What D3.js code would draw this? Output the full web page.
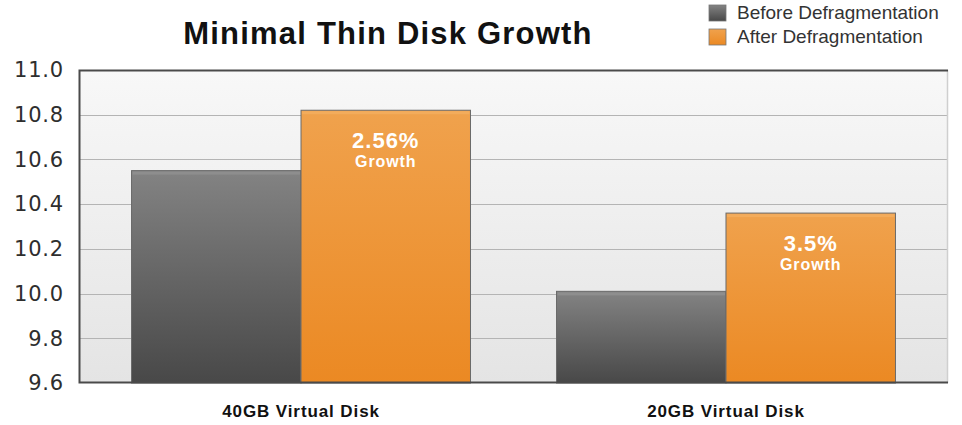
<!DOCTYPE html>
<html>
<head>
<meta charset="utf-8">
<script src="https://cdn.jsdelivr.net/npm/d3@7/dist/d3.min.js"></script>
<style>
  html, body { margin: 0; padding: 0; background: #fff; }
  svg { display: block; }
</style>
</head>
<body>
<svg id="chart" width="962" height="425"></svg>
<script>
// Thin-provisioned disk size before and after defragmentation (GB)
const categories = ["40GB Virtual Disk", "20GB Virtual Disk"];
const seriesNames = ["Before Defragmentation", "After Defragmentation"];
const beforeValues = [10.55, 10.01];
const afterValues = [10.82, 10.36];
const growthLabels = ["2.56%", "3.5%"];
const yTicks = [9.6, 9.8, 10.0, 10.2, 10.4, 10.6, 10.8, 11.0];

const svg = d3.select("#chart");
const W = 962, H = 425;
const m = { left: 79, right: 14, top: 70, bottom: 42 };
const plotW = W - m.left - m.right;
const plotH = H - m.top - m.bottom;

const defs = svg.append("defs");
function vGrad(id, stops) {
  const g = defs.append("linearGradient").attr("id", id)
    .attr("x1", 0).attr("y1", 0).attr("x2", 0).attr("y2", 1);
  stops.forEach(([o, c]) => g.append("stop").attr("offset", o).attr("stop-color", c));
}
vGrad("bgGrad", [[0, "#f8f8f8"], [1, "#e4e4e4"]]);
vGrad("grayGrad", [[0, "#838383"], [1, "#484848"]]);
vGrad("orangeGrad", [[0, "#f0a24d"], [1, "#eb8923"]]);

const x0 = d3.scaleBand().domain(categories).range([0, plotW])
  .paddingInner(0.2024).paddingOuter(0.1236);
const x1 = d3.scaleBand().domain(seriesNames).range([0, x0.bandwidth()]);
const y = d3.scaleLinear().domain([9.6, 11.0]).range([plotH, 0]);

const g = svg.append("g").attr("transform", `translate(${m.left},${m.top})`);

// plot background
g.append("rect").attr("width", plotW).attr("height", plotH).attr("fill", "url(#bgGrad)");

// horizontal gridlines
g.append("g").selectAll("line").data(yTicks.slice(1, -1)).join("line")
  .attr("x1", 0).attr("x2", plotW)
  .attr("y1", d => Math.round(y(d)) + 0.5).attr("y2", d => Math.round(y(d)) + 0.5)
  .attr("stroke", "#b4b4b4").attr("stroke-width", 1.2);

// right edge
g.append("line").attr("x1", plotW - 0.5).attr("x2", plotW - 0.5)
  .attr("y1", 0).attr("y2", plotH).attr("stroke", "#cfcfcf").attr("stroke-width", 1.5);

// bars
const rows = categories.map((c, i) => ({
  cat: c,
  growth: growthLabels[i],
  vals: [
    { key: seriesNames[0], v: beforeValues[i], fill: "url(#grayGrad)", hi: "#8e8e8e" },
    { key: seriesNames[1], v: afterValues[i], fill: "url(#orangeGrad)", hi: "#f3ac5c" }
  ]
}));

const groups = g.append("g").selectAll("g").data(rows).join("g")
  .attr("transform", d => `translate(${x0(d.cat)},0)`);

groups.selectAll("rect.bar").data(d => d.vals).join("rect").attr("class", "bar")
  .attr("x", d => x1(d.key))
  .attr("y", d => y(d.v))
  .attr("width", x1.bandwidth())
  .attr("height", d => plotH - y(d.v))
  .attr("fill", d => d.fill)
  .attr("stroke", "#6a6a6a").attr("stroke-width", 1);

groups.selectAll("rect.hi").data(d => d.vals).join("rect").attr("class", "hi")
  .attr("x", d => x1(d.key) + 1)
  .attr("y", d => y(d.v) + 1)
  .attr("width", x1.bandwidth() - 2)
  .attr("height", 3)
  .attr("fill", d => d.hi);

// growth annotations inside the after bars
groups.append("text")
  .attr("x", x1(seriesNames[1]) + x1.bandwidth() / 2)
  .attr("y", d => y(d.vals[1].v) + 38)
  .attr("text-anchor", "middle")
  .attr("font-family", "Liberation Sans, Arial, sans-serif")
  .attr("font-weight", "bold").attr("font-size", 22).attr("letter-spacing", 1).attr("fill", "#fff")
  .text(d => d.growth);
groups.append("text")
  .attr("x", x1(seriesNames[1]) + x1.bandwidth() / 2)
  .attr("y", d => y(d.vals[1].v) + 57)
  .attr("text-anchor", "middle")
  .attr("font-family", "Liberation Sans, Arial, sans-serif")
  .attr("font-weight", "bold").attr("font-size", 16).attr("letter-spacing", 0.9).attr("fill", "#fff")
  .text("Growth");

// frame: top, left, bottom
g.append("path")
  .attr("d", `M${plotW},0.5H0.5V${plotH - 0.5}H${plotW}`)
  .attr("fill", "none").attr("stroke", "#4a4a4a").attr("stroke-width", 2);

// y axis labels
const yAxis = d3.axisLeft(y).tickValues(yTicks).tickFormat(d3.format(".1f")).tickSize(0).tickPadding(15);
g.append("g").call(yAxis)
  .call(s => s.select(".domain").remove())
  .selectAll("text")
  .attr("font-family", "DejaVu Sans, sans-serif")
  .attr("font-size", 21).attr("letter-spacing", 0.8).attr("fill", "#2e2e2e");

// category labels
const xAxis = d3.axisBottom(x0).tickSize(0).tickPadding(22);
g.append("g").attr("transform", `translate(0,${plotH})`).call(xAxis)
  .call(s => s.select(".domain").remove())
  .selectAll("text")
  .attr("font-family", "Liberation Sans, Arial, sans-serif")
  .attr("font-weight", "bold").attr("font-size", 17).attr("letter-spacing", 0.9).attr("fill", "#111");

// title
svg.append("text")
  .attr("x", 388).attr("y", 44)
  .attr("text-anchor", "middle")
  .attr("font-family", "Liberation Sans, Arial, sans-serif")
  .attr("font-weight", "bold").attr("font-size", 31).attr("letter-spacing", 1.2).attr("fill", "#111")
  .text("Minimal Thin Disk Growth");

// legend
const legend = svg.append("g").attr("transform", "translate(709,5)");
const legendColors = ["url(#grayGrad)", "url(#orangeGrad)"];
seriesNames.forEach((name, i) => {
  const row = legend.append("g").attr("transform", `translate(0,${i * 24})`);
  row.append("rect").attr("width", 17).attr("height", 16)
    .attr("fill", legendColors[i]).attr("stroke", "#777").attr("stroke-width", 0.8);
  row.append("text").attr("x", 28).attr("y", 14)
    .attr("font-family", "Liberation Sans, Arial, sans-serif")
    .attr("font-size", 19).attr("fill", "#333")
    .text(name);
});
</script>
</body>
</html>
